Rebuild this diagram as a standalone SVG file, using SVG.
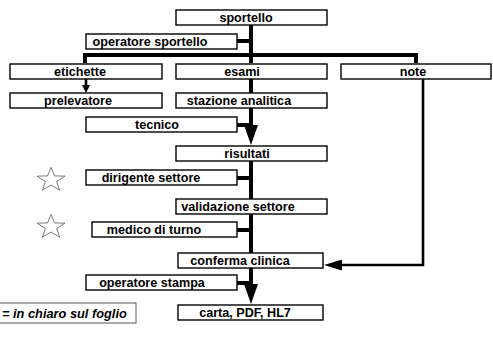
<svg xmlns="http://www.w3.org/2000/svg" width="493" height="337" viewBox="0 0 493 337">
  <style>
    .box { fill: #fff; stroke: #000; stroke-width: 1.4; }
    .lbl { font-family: "Liberation Sans", Arial, sans-serif; font-weight: bold; font-size: 12.6px; fill: #000; text-anchor: middle; }
    .flow { fill: none; stroke: #000; stroke-width: 4; }
    .thin { fill: none; stroke: #000; stroke-width: 2.6; }
    .star { fill: #fff; stroke: #555; stroke-width: 0.8; }
    .legend { fill: #fff; stroke: #555; stroke-width: 1; }
    .legtxt { font-family: "Liberation Sans", Arial, sans-serif; font-weight: bold; font-style: italic; font-size: 12.8px; fill: #000; }
  </style>
  <defs>
    <marker id="bigArrow" viewBox="0 0 20 14" refX="8" refY="7" markerWidth="20" markerHeight="14" markerUnits="userSpaceOnUse" orient="auto">
      <path d="M0,0 L20,7 L0,14 Z" fill="#000"/>
    </marker>
    <marker id="smallArrow" viewBox="0 0 8 8" refX="2" refY="4" markerWidth="8" markerHeight="8" markerUnits="userSpaceOnUse" orient="auto">
      <path d="M0,0 L8,4 L0,8 Z" fill="#000"/>
    </marker>
    <marker id="longArrow" viewBox="0 0 18 11" refX="4" refY="5.5" markerWidth="18" markerHeight="11" markerUnits="userSpaceOnUse" orient="auto">
      <path d="M0,0 L18,5.5 L0,11 Z" fill="#000"/>
    </marker>
    <path id="starShape" d="M0,-14 L3.29,-4.53 L13.31,-4.33 L5.33,1.73 L8.23,11.33 L0,5.6 L-8.23,11.33 L-5.33,1.73 L-13.31,-4.33 L-3.29,-4.53 Z"/>
  </defs>

  <!-- connectors -->
  <g id="connectors">
    <!-- main spine -->
    <path class="flow" d="M251,25 V63"/>
    <path class="flow" d="M237,41 H251"/>
    <path class="flow" d="M85,63 V55 H416 V63"/>
    <path class="flow" d="M251,79 V93"/>
    <path class="flow" d="M251,108 V133" marker-end="url(#bigArrow)"/>
    <path class="flow" d="M237,125 H251"/>
    <path class="flow" d="M251,161 V199"/>
    <path class="flow" d="M237,178 H251"/>
    <path class="flow" d="M251,214 V253"/>
    <path class="flow" d="M237,230 H251"/>
    <path class="flow" d="M251,268 V292" marker-end="url(#bigArrow)"/>
    <path class="flow" d="M237,283 H251"/>
    <!-- etichette to prelevatore -->
    <path class="thin" d="M86,79 V87" marker-end="url(#smallArrow)"/>
    <!-- note to conferma clinica -->
    <path class="thin" d="M423,79 V265 H338" marker-end="url(#longArrow)"/>
  </g>

  <g id="sportello"><rect class="box" x="176" y="10" width="151" height="15"/><text class="lbl" x="246" y="21.5">sportello</text></g>
  <g id="operatore-sportello"><rect class="box" x="86" y="34" width="151" height="15"/><text class="lbl" x="150" y="45.5">operatore sportello</text></g>
  <g id="etichette"><rect class="box" x="10" y="64" width="152" height="15"/><text class="lbl" x="80" y="75.5">etichette</text></g>
  <g id="esami"><rect class="box" x="176" y="64" width="151" height="15"/><text class="lbl" x="242" y="75.5">esami</text></g>
  <g id="note"><rect class="box" x="341" y="64" width="150" height="15"/><text class="lbl" x="413" y="75.5">note</text></g>
  <g id="prelevatore"><rect class="box" x="10" y="93" width="152" height="15"/><text class="lbl" x="78" y="104.5">prelevatore</text></g>
  <g id="stazione-analitica"><rect class="box" x="176" y="93" width="151" height="15"/><text class="lbl" x="239" y="104.5">stazione analitica</text></g>
  <g id="tecnico"><rect class="box" x="86" y="117" width="151" height="15"/><text class="lbl" x="157" y="128.5">tecnico</text></g>
  <g id="risultati"><rect class="box" x="176" y="146" width="151" height="15"/><text class="lbl" x="247" y="157.5">risultati</text></g>
  <g id="dirigente-settore"><rect class="box" x="86" y="170" width="151" height="15"/><text class="lbl" x="151" y="181.5">dirigente settore</text></g>
  <g id="validazione-settore"><rect class="box" x="176" y="199" width="151" height="15"/><text class="lbl" x="238" y="210.5">validazione settore</text></g>
  <g id="medico-di-turno"><rect class="box" x="92" y="222" width="145" height="15"/><text class="lbl" x="154" y="233.5">medico di turno</text></g>
  <g id="conferma-clinica"><rect class="box" x="178" y="253" width="145" height="15"/><text class="lbl" x="240" y="264.5">conferma clinica</text></g>
  <g id="operatore-stampa"><rect class="box" x="86" y="275" width="151" height="15"/><text class="lbl" x="152" y="286.5">operatore stampa</text></g>
  <g id="carta-pdf-hl7"><rect class="box" x="178" y="305" width="145" height="15"/><text class="lbl" x="245" y="316.5">carta, PDF, HL7</text></g>

  <!-- stars and legend -->
  <g id="star-dirigente"><use href="#starShape" class="star" transform="translate(51,180) scale(1.05,0.9)"/></g>
  <g id="star-medico"><use href="#starShape" class="star" transform="translate(51,227) scale(1.05,0.9)"/></g>
  <g id="legend"><rect class="legend" x="-10" y="303" width="146" height="20"/><text class="legtxt" x="2" y="317.5">= in chiaro sul foglio</text></g>
</svg>
